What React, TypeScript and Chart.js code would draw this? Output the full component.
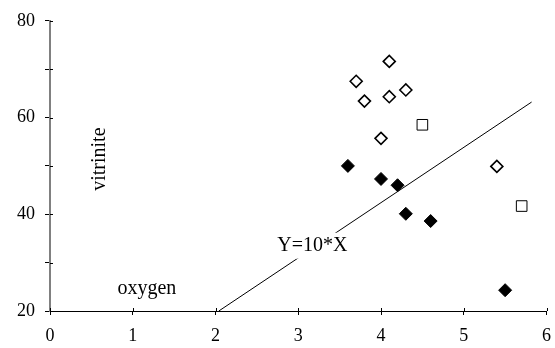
import { useEffect, useRef } from 'react';
import { Chart, registerables } from 'chart.js';
Chart.register(...registerables);

// Filled diamonds
const filledX = [3.6, 4.0, 4.2, 4.3, 4.6, 5.5];
const filledY = [50, 47.3, 46, 40.1, 38.6, 24.3];
// Open diamonds
const openX = [4.1, 3.7, 3.8, 4.1, 4.3, 4.0, 5.4];
const openY = [71.6, 67.5, 63.4, 64.3, 65.7, 55.7, 49.9];
// Open squares
const squareX = [4.5, 5.7];
const squareY = [58.5, 41.7];
// Reference line
const lineX = [2.04, 5.82];
const lineY = [20, 63.2];

const yLabelValues = [20, 40, 60, 80];

const annTexts = ['vitrinite', 'oxygen', 'Y=10*X'];
const annX = [0.6, 1.17, 3.17];
const annY = [51.4, 24.5, 33.5];
const annAngle = [-90, 0, 0];
const annBg = [false, false, true];

const FONT = '"Liberation Serif", "Times New Roman", serif';

const zip = (xs: number[], ys: number[]) => xs.map((x, i) => ({ x, y: ys[i] }));

const textPlugin = {
  id: 'texts',
  afterDatasetsDraw(chart: any) {
    const { ctx, scales } = chart;
    const xs = scales.x, ys = scales.y;
    annTexts.forEach((t, i) => {
      const px = xs.getPixelForValue(annX[i]);
      const py = ys.getPixelForValue(annY[i]);
      ctx.save();
      ctx.translate(px, py);
      ctx.rotate((annAngle[i] * Math.PI) / 180);
      ctx.font = `20px ${FONT}`;
      ctx.textAlign = 'center';
      ctx.textBaseline = 'middle';
      if (annBg[i]) {
        const w = ctx.measureText(t).width;
        ctx.fillStyle = '#fff';
        ctx.fillRect(-w / 2 - 3, -13, w + 6, 26);
      }
      ctx.fillStyle = '#000';
      ctx.fillText(t, 0, 0);
      ctx.restore();
    });
  },
  afterDraw(chart: any) {
    // inner half of cross tick marks
    const { ctx, chartArea, scales } = chart;
    ctx.save();
    ctx.strokeStyle = '#000';
    ctx.lineWidth = 1;
    scales.y.ticks.forEach((tk: any) => {
      const py = Math.round(scales.y.getPixelForValue(tk.value)) + 0.5;
      ctx.beginPath();
      ctx.moveTo(chartArea.left, py);
      ctx.lineTo(chartArea.left + 3, py);
      ctx.stroke();
    });
    scales.x.ticks.forEach((tk: any) => {
      const px = Math.round(scales.x.getPixelForValue(tk.value)) + 0.5;
      ctx.beginPath();
      ctx.moveTo(px, chartArea.bottom);
      ctx.lineTo(px, chartArea.bottom - 3);
      ctx.stroke();
    });
    ctx.restore();
  },
};

export default function App() {
  const ref = useRef<HTMLCanvasElement>(null);
  useEffect(() => {
    const chart = new Chart(ref.current!, {
      type: 'scatter',
      data: {
        datasets: [
          {
            data: zip(filledX, filledY),
            pointStyle: 'rectRot',
            pointRadius: 6.5,
            backgroundColor: '#000',
            borderColor: '#000',
            borderWidth: 1,
          },
          {
            data: zip(openX, openY),
            pointStyle: 'rectRot',
            pointRadius: 6,
            backgroundColor: '#fff',
            borderColor: '#000',
            borderWidth: 1.6,
          },
          {
            data: zip(squareX, squareY),
            pointStyle: 'rect',
            pointRadius: 7.5,
            backgroundColor: '#fff',
            borderColor: '#000',
            borderWidth: 1,
          },
          {
            data: zip(lineX, lineY),
            showLine: true,
            pointRadius: 0,
            borderColor: '#000',
            borderWidth: 1,
          } as any,
        ],
      },
      options: {
        animation: false,
        responsive: false,
        events: [],
        layout: { padding: { top: 18, right: 2, left: 0, bottom: 0 } },
        plugins: { legend: { display: false }, tooltip: { enabled: false } },
        scales: {
          x: {
            type: 'linear',
            min: 0,
            max: 6,
            ticks: { stepSize: 1, color: '#000', font: { family: FONT, size: 18 }, padding: 10, maxRotation: 0 },
            grid: { drawOnChartArea: false, drawTicks: true, tickLength: 4, color: '#000' },
            border: { color: '#000', width: 1 },
            afterFit: (s: any) => { s.height = 37; s.paddingRight = 5; },
          },
          y: {
            type: 'linear',
            min: 20,
            max: 80,
            ticks: {
              stepSize: 10,
              color: '#000',
              font: { family: FONT, size: 18 },
              padding: 10,
              callback: (v: any) => (yLabelValues.includes(Number(v)) ? String(v) : ''),
            },
            grid: { drawOnChartArea: false, drawTicks: true, tickLength: 5, color: '#000' },
            border: { color: '#808080', width: 2 },
            afterFit: (s: any) => { s.width = 50; },
          },
        },
      },
      plugins: [textPlugin],
    });
    return () => chart.destroy();
  }, []);
  return (
    <div style={{ position: 'absolute', left: 0, top: 0, width: 555, height: 348, background: '#fff' }}>
      <canvas ref={ref} width={555} height={348} />
    </div>
  );
}
